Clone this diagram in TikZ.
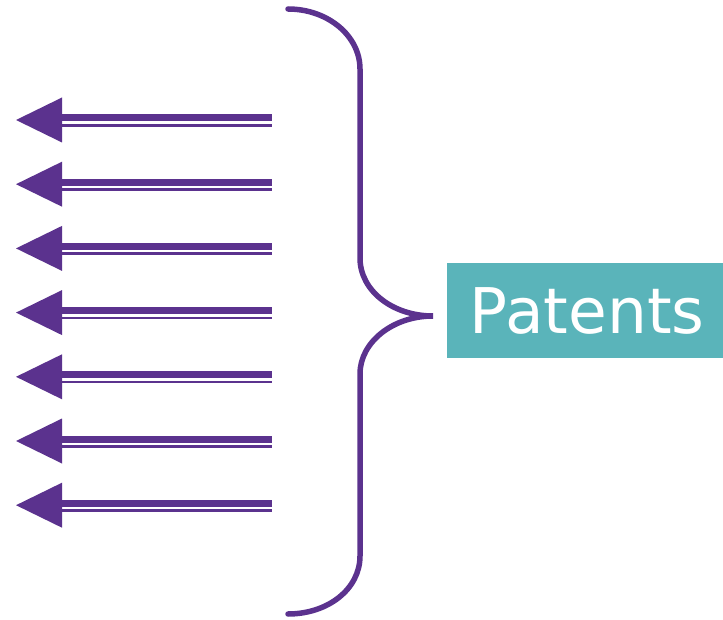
\documentclass[tikz,border=0pt]{standalone}
\usepackage{fontspec}
\newfontfamily\boxfont{DejaVu Sans}
\definecolor{brpurple}{RGB}{91,50,142}
\definecolor{boxteal}{RGB}{90,180,186}
\tikzset{
  shaftthick/.style={draw=brpurple, line width=7pt},
  shaftthin/.style={draw=brpurple, line width=2.5pt},
  headfill/.style={fill=brpurple},
  bracestyle/.style={draw=brpurple, line width=5.5pt, line cap=round},
  labelbox/.style={fill=boxteal, text=white, minimum width=276pt, minimum height=95pt, inner sep=0pt, font=\boxfont\fontsize{63}{63}\selectfont}
}
\begin{document}
\begin{tikzpicture}[x=1pt,y=-1pt]
\useasboundingbox (0,0) rectangle (723,620);
\node[labelbox, anchor=north west] (patents) at (447,263) {\hspace*{4pt}\raisebox{-4pt}{Patents}};
% brace
\coordinate (btop) at (288,9);
\coordinate (bbot) at (288,614);
\coordinate (btip) at (433,316);
\draw[bracestyle] (btop) .. controls (328,9) and (360,36) .. (360,69)
  -- (360,258) .. controls (360,291) and (393,316) .. (btip)
  .. controls (393,316) and (360,342) .. (360,374)
  -- (360,556) .. controls (360,589) and (328,614) .. (bbot);
% arrows
\foreach \i in {0,...,6}{
  \pgfmathsetmacro{\yy}{120+64.2*\i}
  \coordinate (s\i) at (272,\yy);
  \coordinate (t\i) at (16,\yy);
  \draw[shaftthick] ([xshift=-212pt,yshift=2pt]s\i) -- ([yshift=2pt]s\i);
  \draw[shaftthin] ([xshift=-212pt,yshift=-5.3pt]s\i) -- ([yshift=-5.3pt]s\i);
  \fill[headfill] (t\i) -- ([xshift=46pt,yshift=22.5pt]t\i) -- ([xshift=46pt,yshift=-22.5pt]t\i) -- cycle;
}
\end{tikzpicture}
\end{document}
